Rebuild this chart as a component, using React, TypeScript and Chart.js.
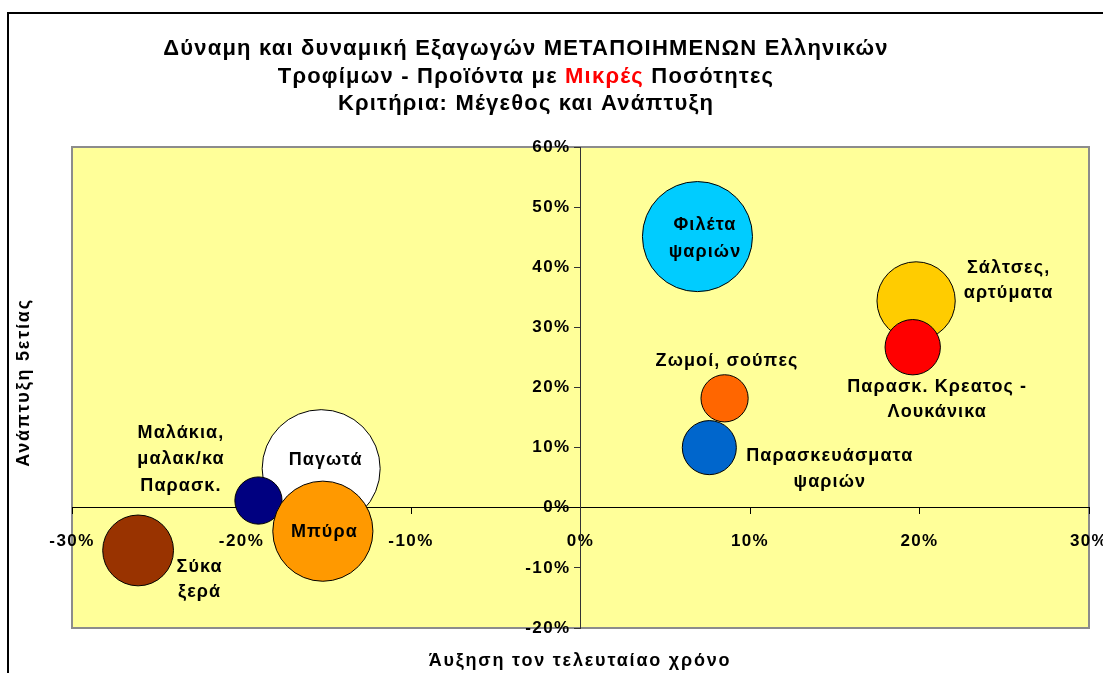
import React, { useEffect, useRef } from 'react';
import { Chart, registerables } from 'chart.js';

Chart.register(...registerables);

// ---- data ----
const categories: string[] = [
  'Παγωτά',
  'Μαλάκια, μαλακ/κα Παρασκ.',
  'Μπύρα',
  'Σύκα ξερά',
  'Φιλέτα ψαριών',
  'Σάλτσες, αρτύματα',
  'Παρασκ. Κρεατος - Λουκάνικα',
  'Ζωμοί, σούπες',
  'Παρασκευάσματα ψαριών',
];
const labelLines: string[][] = [
  ['Παγωτά'],
  ['Μαλάκια,', 'μαλακ/κα', 'Παρασκ.'],
  ['Μπύρα'],
  ['Σύκα', 'ξερά'],
  ['Φιλέτα', 'ψαριών'],
  ['Σάλτσες,', 'αρτύματα'],
  ['Παρασκ. Κρεατος -', 'Λουκάνικα'],
  ['Ζωμοί, σούπες'],
  ['Παρασκευάσματα', 'ψαριών'],
];
// growth last year (%)
const growthLastYear: number[] = [-15.3, -19.0, -15.2, -26.1, 6.9, 19.8, 19.6, 8.5, 7.6];
// growth over 5 years (%)
const growthFiveYears: number[] = [6.5, 1.2, -3.9, -7.1, 45.1, 34.4, 26.7, 18.2, 10.0];
// relative bubble size (export size)
const sizes: number[] = [100, 16, 72, 36, 87, 44, 22, 16, 21];
const xTicks: number[] = [-30, -20, -10, 0, 10, 20, 30];
const yTicks: number[] = [-20, -10, 0, 10, 20, 30, 40, 50, 60];

// ---- styles ----
const colors = ['#FFFFFF', '#000080', '#FF9900', '#993300', '#00CCFF', '#FFCC00', '#FF0000', '#FF6600', '#0066CC'];
// label placement relative to bubble centre: [dx, dy of first line, line spacing]
const labelPlacement: [number, number, number][] = [
  [4, -9, 26],
  [-78, -68, 26.5],
  [1, 1, 26],
  [61, 17, 25],
  [7, -12, 27],
  [92, -33, 25],
  [24, 40, 25],
  [2, -37, 25],
  [120, 8, 26],
];
const FONT = "'Liberation Sans', Arial, sans-serif";
const MAX_R = 59;
const maxSize = Math.max(...sizes);
const AREA = { left: 72, top: 147, right: 1089, bottom: 628 };

const areaPlugin = {
  id: 'areaPlugin',
  afterLayout(chart: any) {
    chart.chartArea = {
      left: AREA.left,
      top: AREA.top,
      right: AREA.right,
      bottom: AREA.bottom,
      width: AREA.right - AREA.left,
      height: AREA.bottom - AREA.top,
    };
    Object.values(chart.scales).forEach((s: any) => {
      if (s.isHorizontal()) {
        s.left = AREA.left;
        s.right = AREA.right;
        s.width = AREA.right - AREA.left;
      } else {
        s.top = AREA.top;
        s.bottom = AREA.bottom;
        s.height = AREA.bottom - AREA.top;
      }
      s.configure();
    });
  },
};

const bgPlugin = {
  id: 'bgPlugin',
  beforeDraw(chart: any) {
    const { ctx, chartArea: a, width, height } = chart;
    ctx.save();
    ctx.fillStyle = '#FFFFFF';
    ctx.fillRect(0, 0, width, height);
    // outer border
    ctx.strokeStyle = '#000000';
    ctx.lineWidth = 2;
    ctx.beginPath();
    ctx.moveTo(8, height + 2);
    ctx.lineTo(8, 13);
    ctx.lineTo(width + 2, 13);
    ctx.stroke();
    // plot area
    ctx.fillStyle = '#FFFF99';
    ctx.fillRect(a.left, a.top, a.right - a.left, a.bottom - a.top);
    ctx.strokeStyle = '#8C8C8C';
    ctx.lineWidth = 2;
    ctx.strokeRect(a.left, a.top, a.right - a.left, a.bottom - a.top);
    ctx.restore();
    ctx.letterSpacing = '1.4px';
  },
};

const labelsPlugin = {
  id: 'labelsPlugin',
  afterDatasetsDraw(chart: any) {
    const { ctx } = chart;
    const meta = chart.getDatasetMeta(0);
    ctx.save();
    ctx.font = `bold 18px ${FONT}`;
    ctx.letterSpacing = '1.1px';
    ctx.fillStyle = '#000000';
    ctx.textAlign = 'center';
    ctx.textBaseline = 'middle';
    meta.data.forEach((el: any, i: number) => {
      const [dx, dy, sp] = labelPlacement[i];
      labelLines[i].forEach((line, j) => {
        ctx.fillText(line, el.x + dx + 0.5, el.y + dy + j * sp);
      });
    });
    ctx.restore();
  },
};

const titlePlugin = {
  id: 'titlePlugin',
  afterDraw(chart: any) {
    const { ctx, chartArea: a } = chart;
    ctx.save();
    ctx.font = `bold 22px ${FONT}`;
    ctx.letterSpacing = '1.2px';
    ctx.textBaseline = 'alphabetic';
    ctx.fillStyle = '#000000';
    ctx.textAlign = 'center';
    const cx = 526;
    ctx.fillText('Δύναμη και δυναμική Εξαγωγών ΜΕΤΑΠΟΙΗΜΕΝΩΝ Ελληνικών', cx, 55);
    // line 2 with red word
    const parts: [string, string][] = [
      ['Τροφίμων - Προϊόντα με ', '#000000'],
      ['Μικρές', '#FF0000'],
      [' Ποσότητες', '#000000'],
    ];
    const total = parts.reduce((s, p) => s + ctx.measureText(p[0]).width, 0);
    let x = cx - total / 2;
    ctx.textAlign = 'left';
    parts.forEach(([t, c]) => {
      ctx.fillStyle = c;
      ctx.fillText(t, x, 82.5);
      x += ctx.measureText(t).width;
    });
    ctx.fillStyle = '#000000';
    ctx.textAlign = 'center';
    ctx.fillText('Κριτήρια: Μέγεθος και Ανάπτυξη', cx, 110);
    // axis titles
    ctx.font = `bold 18px ${FONT}`;
    ctx.letterSpacing = '1.8px';
    ctx.textBaseline = 'middle';
    ctx.fillText('Άυξηση τον τελευταίαο χρόνο', 580, 661);
    ctx.translate(24, (a.top + a.bottom) / 2 - 5);
    ctx.rotate(-Math.PI / 2);
    ctx.fillText('Ανάπτυξη 5ετίας', 0, 0);
    ctx.restore();
    ctx.letterSpacing = '0px';
  },
};

export default function App() {
  const ref = useRef<HTMLCanvasElement | null>(null);
  useEffect(() => {
    if (!ref.current) return;
    const data = categories.map((_, i) => ({
      x: growthLastYear[i],
      y: growthFiveYears[i],
      r: MAX_R * Math.sqrt(sizes[i] / maxSize),
    }));
    const tickFont = { family: FONT, size: 17, weight: 'bold' as const };
    const chart = new Chart(ref.current, {
      type: 'bubble',
      data: {
        datasets: [
          {
            label: 'Προϊόντα',
            data,
            backgroundColor: colors,
            borderColor: '#000000',
            borderWidth: 1,
          },
        ],
      },
      options: {
        animation: false,
        responsive: false,
        events: [],
        layout: { padding: { left: 72, right: 14, top: 147, bottom: 45 } },
        plugins: {
          legend: { display: false },
          tooltip: { enabled: false },
          title: { display: false },
        },
        scales: {
          x: {
            type: 'linear',
            position: { y: 0 } as any,
            min: xTicks[0],
            max: xTicks[xTicks.length - 1],
            afterBuildTicks: (s: any) => {
              s.ticks = xTicks.map((v) => ({ value: v }));
            },
            ticks: {
              font: tickFont,
              color: '#000000',
              padding: 17,
              maxRotation: 0,
              autoSkip: false,
              callback: (v: any) => `${v}%`,
            },
            grid: { drawOnChartArea: false, drawTicks: true, tickLength: 6, color: '#000000' },
            border: { display: true, color: '#000000', width: 1 },
          },
          y: {
            type: 'linear',
            position: 'center',
            min: yTicks[0],
            max: yTicks[yTicks.length - 1],
            afterBuildTicks: (s: any) => {
              s.ticks = yTicks.map((v) => ({ value: v }));
            },
            ticks: {
              font: tickFont,
              color: '#000000',
              padding: 4,
              autoSkip: false,
              callback: (v: any) => `${v}%`,
            },
            grid: { drawOnChartArea: false, drawTicks: true, tickLength: 6, color: '#333333' },
            border: { display: true, color: '#333333', width: 1 },
          },
        },
      },
      plugins: [areaPlugin, bgPlugin, labelsPlugin, titlePlugin],
    });
    return () => chart.destroy();
  }, []);
  return (
    <div style={{ position: 'absolute', left: 0, top: 0, width: 1103, height: 673, overflow: 'hidden' }}>
      <canvas ref={ref} width={1103} height={673} style={{ display: 'block' }} />
    </div>
  );
}
